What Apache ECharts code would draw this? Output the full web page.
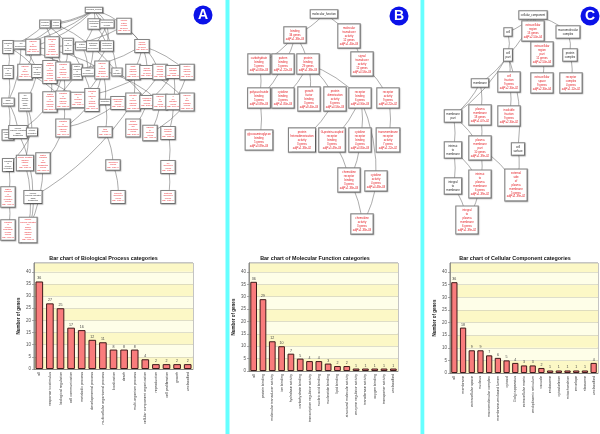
<!DOCTYPE html>
<html><head><meta charset="utf-8">
<script src="https://cdn.jsdelivr.net/npm/echarts@6.0.0/dist/echarts.min.js"></script>
<style>html,body{margin:0;padding:0;background:#fff}#c{width:600px;height:434px}</style>
</head><body><div id="c"></div>
<script>
// ---------------- bar chart data ----------------
const bpCategories = ['all','response to stimulus','biological regulation','cell communication','metabolic process','developmental process','multicellular organismal process','localization','death','multi-organism process','cellular component organization','reproduction','cell proliferation','growth','unclassified'];
const bpValues = [36,27,25,17,16,12,11,8,8,8,4,2,2,2,2];
const mfCategories = ['all','protein binding','molecular transducer activity','ion binding','hydrolase activity','carbohydrate binding','transcription regulator activity','nucleic acid binding','nucleotide binding','lipid binding','structural molecule activity','enzyme regulator activity','transferase activity','oxygen binding','transporter activity','unclassified'];
const mfValues = [36,29,12,10,7,5,4,4,3,2,2,1,1,1,1,1];
const ccCategories = ['all','membrane','extracellular space','nucleus','macromolecular complex','membrane-enclosed lumen','cytosol','Golgi apparatus','extracellular matrix','endoplasmic reticulum','vacuole','endosome','cytoskeleton','mitochondrion','envelope','ribosome','unclassified'];
const ccValues = [36,18,9,9,7,6,5,4,3,3,2,1,1,1,1,1,4];
const chartTitles = ['Bar chart of Biological Process categories','Bar chart of Molecular Function categories','Bar chart of Cellular Component categories'];
const yAxisName = 'Number of genes';
const panelLetters = ['A','B','C'];

// ---------------- GO graph data: [id, term, genes, adjP] ----------------
const bpTerms = [
 ['a0','biological_process',0,''],['a1','biological regulation',0,''],['a2','cellular process',0,''],
 ['a3','multicellular organismal process',0,''],['a4','developmental process',0,''],['a5','immune system process',22,'2.01e-07'],
 ['b1','regulation of biological process',0,''],['b2','cell communication',0,''],['b3','response to stimulus',27,'1.06e-05'],
 ['b4','regulation of immune system process',10,'5.26e-05'],['b5','regulation of response to stimulus',0,''],['b6','system development',0,''],
 ['b7','anatomical structure development',0,''],['b8','multicellular organismal development',0,''],['b9','immune response',17,'2.01e-07'],
 ['c1','regulation of cellular process',0,''],['c2','response to stress',15,'1.14e-04'],['c3','regulation of signaling process',0,''],
 ['c4','positive regulation of immune system process',8,'1.02e-04'],['c5','regulation of immune response',7,'1.76e-04'],
 ['c6','positive regulation of biological process',0,''],['c7','organ development',0,''],['c8','response to external stimulus',12,'3.01e-05'],
 ['c9','cell activation',0,''],['c10','innate immune response',6,'3.03e-04'],['c11','defense response',11,'1.02e-04'],
 ['c12','immune effector process',5,'1.55e-03'],['c13','leukocyte activation',6,'1.28e-03'],['c14','adaptive immune response',4,'2.42e-03'],
 ['d1','signal transduction',0,''],['d2','cell surface receptor linked signal transduction',0,''],
 ['d3','positive regulation of immune response',6,'2.79e-04'],['d4','regulation of defense response',5,'1.55e-03'],
 ['d5','response to wounding',9,'1.02e-04'],['d6','regulation of response to external stimulus',5,'1.14e-03'],['d7','locomotion',0,''],
 ['d8','inflammatory response',8,'1.02e-04'],['d9','activation of immune response',5,'1.02e-03'],['d10','lymphocyte activation',5,'2.42e-03'],
 ['d11','response to virus',4,'2.42e-03'],['d12','T cell activation',4,'3.94e-03'],['d13','response to other organism',5,'2.80e-03'],
 ['e1','intracellular signaling cascade',0,''],['e2','immune response-regulating signal transduction',0,''],['e3','cytokine production',0,''],
 ['e4','regulation of inflammatory response',4,'1.14e-03'],['e5','taxis',7,'1.02e-04'],['e6','antigen processing and presentation',4,'2.42e-03'],
 ['e7','response to bacterium',4,'4.18e-03'],['e8','leukocyte migration',4,'1.55e-03'],
 ['f1','regulation of cytokine production',0,''],['f2','cytokine-mediated signaling pathway',4,'1.02e-03'],
 ['f3','positive regulation of signal transduction',3,'8.29e-03'],['f4','chemotaxis',7,'1.02e-04'],['f5','cell chemotaxis',4,'1.02e-04'],
 ['g1','positive regulation of cytokine production',3,'4.18e-03'],['g2','immune response-activating signal transduction',0,''],
 ['g3','leukocyte chemotaxis',4,'1.02e-04'],['g4','neutrophil chemotaxis',3,'1.02e-04'],
 ['h1','regulation of cytokine biosynthetic process',3,'6.59e-03'],['h2','immune response-activating cell surface receptor signaling pathway',3,'6.59e-03']
];
const bpEdges = [
 ['a0','a1'],['a0','a2'],['a0','a3'],['a0','a4'],['a0','a5'],['a0','b1'],['a0','b3'],['a0','c9'],
 ['a1','b1'],['a1','b4'],['a1','b5'],['a2','b2'],['a2','c9'],['a3','b8'],['a3','b6'],['a4','b7'],['a4','b8'],
 ['a5','b9'],['a5','b4'],['a5','c12'],['b1','c1'],['b1','c3'],['b1','c6'],['b2','c3'],['b2','d1'],
 ['b3','c2'],['b3','c8'],['b4','c4'],['b4','c5'],['b5','c5'],['b5','d6'],['b6','c7'],['b7','c7'],['b8','c7'],
 ['b9','c10'],['b9','c11'],['b9','c14'],['b9','c5'],['c1','d1'],['c2','d5'],['c2','d4'],['c3','d2'],
 ['c4','d3'],['c5','d3'],['c5','d4'],['c6','d3'],['c8','d5'],['c8','d7'],['c8','d6'],['c9','d10'],
 ['c10','d9'],['c11','d4'],['c11','d13'],['c12','d9'],['c13','d10'],['c13','d12'],['c14','d12'],['c8','d11'],
 ['d1','e1'],['d1','e2'],['d2','e3'],['d2','f2'],['d3','e2'],['d4','e4'],['d5','d8'],['d6','e4'],['d7','e5'],
 ['d8','e4'],['d9','g2'],['d10','e6'],['d11','e7'],['d13','e7'],['d12','e8'],['e2','g2'],['e3','f1'],
 ['e5','f4'],['e8','f5'],['e4','f3'],['f1','g1'],['f2','h2'],['f3','h2'],['f4','g3'],['f5','g4'],['g1','h1'],['g2','h2']
];
const mfTerms = [
 ['m0','molecular_function',0,''],['m1','binding',34,'1.38e-03'],['m2','molecular transducer activity',12,'1.40e-03'],
 ['m3','carbohydrate binding',5,'4.80e-03'],['m4','pattern binding',5,'1.22e-03'],['m5','protein binding',29,'1.38e-03'],
 ['m6','signal transducer activity',12,'4.56e-03'],['m7','polysaccharide binding',5,'3.89e-03'],['m8','cytokine binding',4,'1.80e-03'],
 ['m9','growth factor binding',3,'8.40e-03'],['m10','protein dimerization activity',6,'4.56e-03'],['m11','receptor binding',6,'4.90e-03'],
 ['m12','receptor activity',9,'4.22e-02'],['m13','glycosaminoglycan binding',5,'3.89e-03'],['m14','protein heterodimerization activity',3,'1.38e-02'],
 ['m15','G-protein-coupled receptor binding',3,'5.49e-03'],['m16','cytokine receptor binding',4,'4.80e-03'],
 ['m17','transmembrane receptor activity',7,'1.22e-02'],['m18','chemokine receptor binding',3,'1.38e-03'],
 ['m19','cytokine activity',4,'4.48e-03'],['m20','chemokine activity',3,'1.38e-03']
];
const mfEdges = [
 ['m0','m1'],['m0','m2'],['m1','m3'],['m1','m4'],['m1','m5'],['m2','m6'],['m3','m7'],['m4','m7'],
 ['m5','m8'],['m5','m9'],['m5','m10'],['m5','m11'],['m6','m12'],['m7','m13'],['m10','m14'],
 ['m11','m15'],['m11','m16'],['m11','m19'],['m12','m17'],['m15','m18'],['m16','m18'],['m18','m20'],['m19','m20']
];
const ccTerms = [
 ['k0','cellular_component',0,''],['k1','cell',0,''],['k2','extracellular region',13,'2.50e-04'],['k3','macromolecular complex',0,''],
 ['k4','cell part',0,''],['k5','extracellular region part',11,'2.50e-04'],['k6','protein complex',0,''],
 ['k7','membrane',0,''],['k8','cell fraction',9,'2.30e-02'],['k9','extracellular space',9,'2.30e-04'],['k10','receptor complex',4,'1.12e-02'],
 ['k11','membrane part',0,''],['k12','plasma membrane',18,'1.07e-02'],['k13','insoluble fraction',9,'2.30e-02'],
 ['k14','cell surface',0,''],['k15','intrinsic to membrane',0,''],['k16','plasma membrane part',10,'1.39e-02'],
 ['k17','intrinsic to plasma membrane',6,'1.39e-02'],['k18','external side of plasma membrane',5,'1.39e-02'],
 ['k19','integral to membrane',0,''],['k20','integral to plasma membrane',6,'1.39e-02']
];
const ccEdges = [
 ['k0','k1'],['k0','k2'],['k0','k3'],['k0','k4'],['k0','k5'],['k1','k4'],['k2','k5'],['k3','k6'],
 ['k4','k7'],['k4','k8'],['k4','k11'],['k4','k14'],['k5','k9'],['k6','k10'],['k7','k11'],['k7','k12'],
 ['k8','k13'],['k11','k15'],['k11','k16'],['k12','k16'],['k16','k17'],['k16','k18'],['k14','k18'],
 ['k15','k19'],['k15','k17'],['k19','k20'],['k17','k20']
];

// ---------------- diagram layout (panel units) ----------------
const bpLayout = {a0:[94,10],a1:[45,24],a2:[56,24],a3:[94,24],a4:[107,24],a5:[124,26],
 b1:[8,47],b2:[21,45],b3:[33,47],b4:[52,47],b5:[68,46],b6:[82,46],b7:[93,46],b8:[107,46],b9:[142,46],
 c1:[8,72],c2:[25,72],c3:[37,71],c4:[50,72],c5:[63,71],c6:[77,72],c7:[88,72],c8:[102,70],c9:[117,72],c10:[133,72],c11:[147,72],c12:[160,72],c13:[173,72],c14:[187,72],
 d1:[8,102],d2:[25,102],d3:[50,102],d4:[63,100],d5:[78,100],d6:[92,100],d7:[105,102],d8:[118,103],d9:[133,102],d10:[147,102],d11:[160,102],d12:[173,102],d13:[187,102],
 e1:[8,135],e2:[18,132],e3:[32,132],e4:[63,128],e5:[105,132],e6:[133,128],e7:[150,133],e8:[168,133],
 f1:[8,165],f2:[25,163],f3:[43,163],f4:[113,165],f5:[168,167],g1:[8,197],g2:[33,197],g3:[118,197],g4:[168,197],h1:[8,230],h2:[28,230]};
const mfLayout = {m0:[94,14],m1:[65,35],m2:[119,36],m3:[29,64],m4:[53,64],m5:[78,64],m6:[132,64],
 m7:[29,98],m8:[53,98],m9:[79,99],m10:[105,99],m11:[130,98],m12:[158,98],
 m13:[29,140],m14:[72,140],m15:[102,140],m16:[130,140],m17:[158,140],m18:[119,180],m19:[146,181],m20:[132,224]};
const ccLayout = {k0:[108,15],k1:[83,32],k2:[108,31],k3:[143,32],k4:[83,55],k5:[117,54],k6:[145,55],
 k7:[55,83],k8:[84,82],k9:[117,83],k10:[146,83],k11:[28,116],k12:[55,115],k13:[84,116],
 k14:[93,149],k15:[28,150],k16:[55,148],k17:[55,184],k18:[91,185],k19:[28,186],k20:[42,220]};

// ---------------- build ----------------
const RED = '#e4161c', BLACK = '#222';
function nodeText(t) {
  const lines = t[1].split(' ');
  if (t[2]) { lines.push(t[2] + ' genes'); lines.push('adjP=' + t[3]); }
  return lines.join('\n');
}
function graphSeries(terms, edges, layout, idx, fontSize, lineHeight, pad) {
  return {
    type: 'graph', layout: 'none', coordinateSystem: 'cartesian2d',
    xAxisIndex: idx, yAxisIndex: idx, symbol: 'rect', symbolSize: 1,
    itemStyle: {color: 'rgba(0,0,0,0)'}, silent: true,
    label: {show: true, position: 'inside', fontSize: fontSize, lineHeight: lineHeight,
      fontFamily: 'Liberation Sans', align: 'center', backgroundColor: '#fff',
      borderColor: '#858585', borderWidth: 1.1, padding: pad,
      shadowColor: 'rgba(0,0,0,0.3)', shadowBlur: 1, shadowOffsetX: 0.6, shadowOffsetY: 0.6},
    lineStyle: {color: '#666', width: 0.55, curveness: 0.12, opacity: 1},
    data: terms.map(t => ({name: t[0], value: layout[t[0]],
      label: {formatter: nodeText(t), color: t[2] ? RED : BLACK}})),
    links: edges.map(e => ({source: e[0], target: e[1]}))
  };
}
const barGrids = [
  {left: 34, top: 263, width: 159, height: 106},
  {left: 249, top: 263, width: 149, height: 108},
  {left: 450, top: 263, width: 148, height: 110}
];
const graphGrids = [
  {left: 0, top: 0, width: 200, height: 250},
  {left: 230, top: 0, width: 190, height: 250},
  {left: 425, top: 0, width: 175, height: 250}
];
const cats = [bpCategories, mfCategories, ccCategories];
const vals = [bpValues, mfValues, ccValues];

const grids = [], xAxes = [], yAxes = [], series = [];
barGrids.forEach((g, i) => {
  grids.push(Object.assign({show: true, borderColor: '#8a8a8a', borderWidth: 1, backgroundColor: 'transparent'}, g));
  xAxes.push({type: 'category', gridIndex: i, data: cats[i],
    axisLine: {lineStyle: {color: '#777', width: 0.8}},
    axisTick: {alignWithLabel: true, length: 2, lineStyle: {color: '#777', width: 0.6}},
    axisLabel: {rotate: 90, interval: 0, fontSize: 3.7, color: '#333', margin: 3, fontFamily: 'Liberation Sans'}});
  yAxes.push({type: 'value', gridIndex: i, min: 0, max: 43.6, interval: 5,
    name: yAxisName, nameLocation: 'middle', nameGap: 13,
    nameTextStyle: {fontSize: 4.5, fontWeight: 'bold', color: '#222', fontFamily: 'Liberation Sans'},
    axisLine: {show: true, lineStyle: {color: '#777', width: 0.8}},
    axisTick: {show: true, length: 2, lineStyle: {color: '#777', width: 0.6}},
    axisLabel: {fontSize: 4.5, color: '#555', margin: 3, showMaxLabel: false, fontFamily: 'Liberation Sans'},
    splitLine: {show: true, lineStyle: {color: '#c9c9b8', width: 0.6}},
    splitArea: {show: true, areaStyle: {color: ['#fcf8c6', '#fefee8']}}});
  series.push({type: 'bar', xAxisIndex: i, yAxisIndex: i, data: vals[i], barCategoryGap: '28%',
    itemStyle: {color: '#f97c7c', borderColor: '#3e1a1a', borderWidth: 1},
    label: {show: true, position: 'top', distance: 1, fontSize: 3.6, color: '#444', fontFamily: 'Liberation Sans'}});
});
graphGrids.forEach((g, j) => {
  const i = j + 3;
  grids.push(g);
  xAxes.push({type: 'value', gridIndex: i, min: 0, max: g.width, show: false});
  yAxes.push({type: 'value', gridIndex: i, min: 0, max: g.height, inverse: true, show: false});
});
series.push(graphSeries(bpTerms, bpEdges, bpLayout, 3, 1.8, 2.5, [1, 0.8]));
series.push(graphSeries(mfTerms, mfEdges, mfLayout, 4, 2.8, 3.9, [1.8, 1.5]));
series.push(graphSeries(ccTerms, ccEdges, ccLayout, 5, 2.8, 3.9, [1.8, 1.5]));

const titleCenters = [[103.5, 259], [315, 259], [515, 258.5]];
const letterCenters = [[203, 15], [399, 16], [590, 16]];
const graphic = [
  {type: 'rect', shape: {x: 225.5, y: 0, width: 4, height: 434}, style: {fill: '#66ffff'}, z: 10},
  {type: 'rect', shape: {x: 420.5, y: 0, width: 3.8, height: 434}, style: {fill: '#66ffff'}, z: 10}
];
chartTitles.forEach((t, i) => graphic.push({type: 'text', x: titleCenters[i][0], y: titleCenters[i][1], z: 10,
  style: {text: t, fontSize: 5.4, fontWeight: 'bold', fill: '#111', align: 'center', verticalAlign: 'middle', fontFamily: 'Liberation Sans'}}));
panelLetters.forEach((l, i) => {
  graphic.push({type: 'circle', shape: {cx: letterCenters[i][0], cy: letterCenters[i][1], r: 9.5}, style: {fill: '#0b12e8'}, z: 11});
  graphic.push({type: 'text', x: letterCenters[i][0], y: letterCenters[i][1] + 0.5, z: 12,
    style: {text: l, fontSize: 14, fontWeight: 'bold', fill: '#fff', align: 'center', verticalAlign: 'middle', fontFamily: 'Liberation Sans'}});
});

const chart = echarts.init(document.getElementById('c'), null, {renderer: 'canvas'});
chart.setOption({animation: false, backgroundColor: '#fff', grid: grids, xAxis: xAxes, yAxis: yAxes, series: series, graphic: graphic});
</script></body></html>
